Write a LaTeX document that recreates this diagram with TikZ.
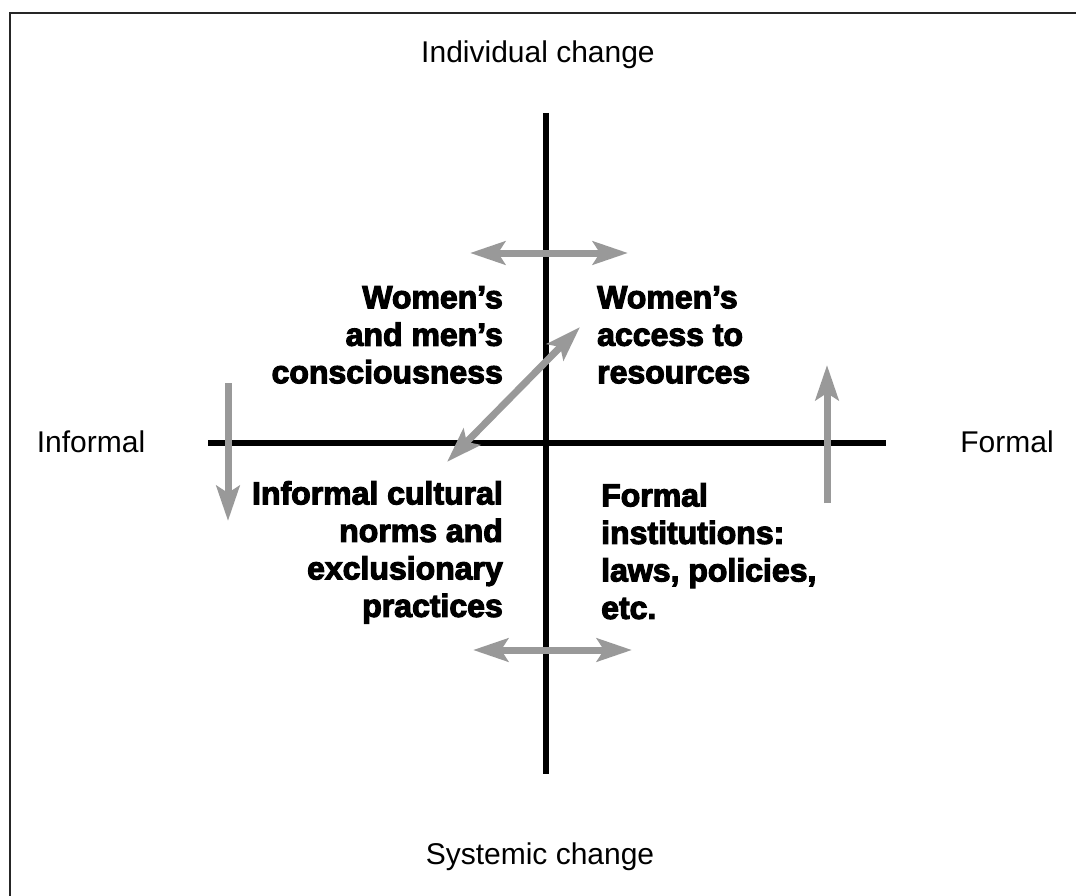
\documentclass[tikz,border=0pt]{standalone}
\usepackage{fontspec}
\setmainfont{Liberation Sans}
\newfontfamily\heavy{Liberation Sans Bold}[FakeBold=3.5]
\usetikzlibrary{arrows.meta}
\definecolor{arrowgray}{RGB}{153,153,153}
\tikzset{
  tip/.tip={Stealth[length=35pt,width=23pt,inset=7pt]},
  axis/.style={line width=6pt, black},
  garrow/.style={line width=7pt, arrowgray, -tip},
  gdouble/.style={line width=7pt, arrowgray, tip-tip},
  plainlabel/.style={font=\fontsize{30}{36}\selectfont, inner sep=0pt},
  quad/.style={font=\heavy\fontsize{32}{37.5}\selectfont, inner sep=0pt},
}
\begin{document}
\begin{tikzpicture}[x=1pt,y=-1pt]
\useasboundingbox (0,0) rectangle (1076,896);
% frame (open to the right and bottom)
\coordinate (fbl) at (10,900);
\coordinate (ftl) at (10,13);
\coordinate (ftr) at (1080,13);
\draw[line width=2pt, black!85] (fbl) -- (ftl) -- (ftr);
% axes
\coordinate (vt) at (546,113);
\coordinate (vb) at (546,774);
\coordinate (hl) at (208,443);
\coordinate (hr) at (886,443);
\draw[axis] (vt) -- (vb);
\draw[axis] (hl) -- (hr);
% axis labels
\node[plainlabel] (ind) at (538,55) {Individual change};
\node[plainlabel] (sys) at (540,857) {Systemic change};
\node[plainlabel] (inf) at (91,442) {Informal};
\node[plainlabel] (for) at (1007,442) {Formal};
% quadrant texts
\node[quad, align=right, anchor=north east] (q1) at (503,286) {Women’s\\and men’s\\consciousness};
\node[quad, align=left, anchor=north west] (q2) at (597,286) {Women’s\\access to\\resources};
\node[quad, align=right, anchor=north east] (q3) at (503,481) {Informal cultural\\norms and\\exclusionary\\practices};
\node[quad, align=left, anchor=north west] (q4) at (601,483) {Formal\\institutions:\\laws, policies,\\etc.};
% gray arrows
\coordinate (ta) at (470,253);
\coordinate (tb) at (628,253);
\coordinate (ba) at (473,650);
\coordinate (bb) at (632,650);
\coordinate (ls) at (228,383);
\coordinate (le) at (228,521);
\coordinate (rs) at (827,503);
\coordinate (re) at (827,365);
\coordinate (da) at (447,462);
\coordinate (db) at (580,327);
\draw[gdouble] (ta) -- (tb);
\draw[gdouble] (ba) -- (bb);
\draw[garrow] (ls) -- (le);
\draw[garrow] (rs) -- (re);
\draw[gdouble] (da) -- (db);
\end{tikzpicture}
\end{document}
